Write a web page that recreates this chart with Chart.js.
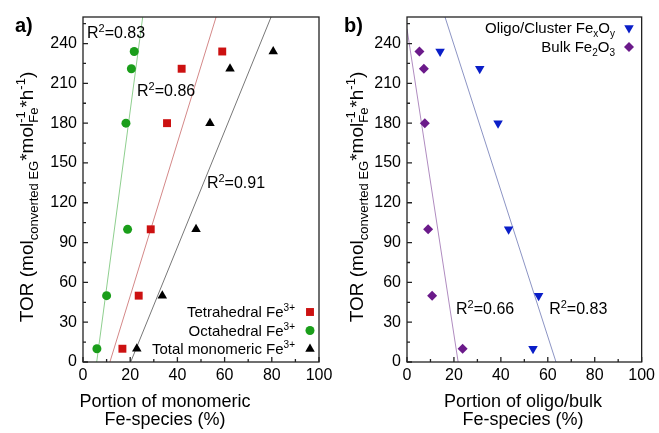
<!DOCTYPE html>
<html>
<head>
<meta charset="utf-8">
<script src="https://cdn.jsdelivr.net/npm/chart.js@4.4.1/dist/chart.umd.min.js"></script>
<style>
  body { margin: 0; background: #fff; }
  #wrap { position: relative; width: 659px; height: 433px; }
  canvas { position: absolute; top: 0; }
  #left { left: 0; }
  #right { left: 330px; }
</style>
</head>
<body>
<div id="wrap">
  <canvas id="left" width="340" height="433"></canvas>
  <canvas id="right" width="329" height="433"></canvas>
</div>
<script>
// TOR of the six catalysts (same order in every series)
const tor = [234, 221, 180, 100, 50, 10];

// panel a) portion of monomeric Fe species (%)
const tetrahedral = [59, 41.8, 35.6, 28.7, 23.6, 16.7];
const octahedral = [21.7, 20.5, 18.2, 18.9, 10, 5.9];
const totalMonomeric = [80.6, 62.3, 53.8, 47.9, 33.6, 22.8];

// panel b) portion of oligo/bulk Fe species (%)
const oligoCluster = [14.1, 31, 38.8, 43.3, 56.1, 53.7];
const bulk = [5.3, 7.2, 7.6, 9.0, 10.7, 23.7];

// linear fits, two end points each [x, y]
const octaFit = [[5.8, 0], [25.3, 260]];
const tetraFit = [[11.4, 0], [56.4, 260]];
const totalFit = [[20.2, 0], [79.7, 260]];
const bulkFit = [[0, 251], [21.8, 0]];
const oligoFit = [[16.2, 260], [63.5, 0]];

// R^2 labels: [text, x, y] in data units
const r2Left = [['0.83', 1.7, 244], ['0.86', 22.9, 200.5], ['0.91', 52.5, 131]];
const r2Right = [['0.66', 20.9, 36], ['0.83', 60.6, 36]];

const xTicks = [0, 20, 40, 60, 80, 100];
const xMinor = [10, 30, 50, 70, 90];
const yTicks = [0, 30, 60, 90, 120, 150, 180, 210, 240];
const yMinor = [15, 45, 75, 105, 135, 165, 195, 225, 255];

const FONT = '"Liberation Sans", Arial, sans-serif';
Chart.defaults.font.family = FONT;
Chart.defaults.color = '#000';

const yTitle = ['TOR (mol', {sub: 'converted EG'}, '*mol', {sup: '-1', sub: 'Fe'}, '*h', {sup: '-1'}, ')'];

function toPoints(xs) {
    return xs.map((x, i) => ({x: x, y: tor[i]}));
}

function drawRich(ctx, parts, x, y, size, align, bold) {
    const small = Math.round(size * 0.68);
    const font = s => (bold ? 'bold ' : '') + s + 'px ' + FONT;
    const width = p => {
        if (typeof p === 'string') {
            ctx.font = font(size);
            return ctx.measureText(p).width;
        }
        ctx.font = font(small);
        return Math.max(p.sup ? ctx.measureText(p.sup).width : 0,
                        p.sub ? ctx.measureText(p.sub).width : 0);
    };
    const total = parts.reduce((s, p) => s + width(p), 0);
    let cx = align === 'right' ? x - total : align === 'center' ? x - total / 2 : x;
    ctx.textAlign = 'left';
    ctx.textBaseline = 'alphabetic';
    parts.forEach(p => {
        const w = width(p);
        if (typeof p === 'string') {
            ctx.font = font(size);
            ctx.fillText(p, cx, y);
        } else {
            ctx.font = font(small);
            if (p.sup) ctx.fillText(p.sup, cx, y - size * 0.4);
            if (p.sub) ctx.fillText(p.sub, cx, y + size * 0.27);
        }
        cx += w;
    });
}

function decorations(cfg) {
    return {
        id: 'decorations',
        afterDraw(chart) {
            const ctx = chart.ctx;
            const a = chart.chartArea;
            const xs = chart.scales.x;
            const ys = chart.scales.y;
            ctx.save();
            ctx.fillStyle = '#000';

            // frame and inward ticks
            ctx.strokeStyle = '#222';
            ctx.lineWidth = 1.3;
            ctx.strokeRect(a.left, a.top, a.right - a.left, a.bottom - a.top);
            ctx.beginPath();
            xTicks.forEach(v => {
                const px = xs.getPixelForValue(v);
                ctx.moveTo(px, a.bottom); ctx.lineTo(px, a.bottom - 5);
            });
            xMinor.forEach(v => {
                const px = xs.getPixelForValue(v);
                ctx.moveTo(px, a.bottom); ctx.lineTo(px, a.bottom - 3);
            });
            yTicks.forEach(v => {
                const py = ys.getPixelForValue(v);
                ctx.moveTo(a.left, py); ctx.lineTo(a.left + 5, py);
            });
            yMinor.forEach(v => {
                const py = ys.getPixelForValue(v);
                ctx.moveTo(a.left, py); ctx.lineTo(a.left + 3, py);
            });
            ctx.stroke();

            // panel letter
            ctx.font = 'bold 20px ' + FONT;
            ctx.textAlign = 'left';
            ctx.textBaseline = 'alphabetic';
            ctx.fillText(cfg.letter, cfg.letterX, 32);

            // y title, rotated
            ctx.save();
            ctx.translate(33, 197);
            ctx.rotate(-Math.PI / 2);
            drawRich(ctx, yTitle, 0, 0, 19, 'center');
            ctx.restore();

            // x title, two lines
            ctx.font = '18px ' + FONT;
            ctx.textAlign = 'center';
            ctx.fillText(cfg.xTitle[0], cfg.xTitleX, 407);
            ctx.fillText(cfg.xTitle[1], cfg.xTitleX, 425);

            // R^2 labels
            cfg.r2.forEach(r => {
                drawRich(ctx, ['R', {sup: '2'}, '=' + r[0]],
                         xs.getPixelForValue(r[1]), ys.getPixelForValue(r[2]), 16, 'left');
            });

            // legend
            cfg.legend.forEach((item, i) => {
                const rowY = cfg.legendY + i * cfg.legendGap;
                drawRich(ctx, item.text, cfg.legendTextX, rowY + 5, 15, 'right');
                ctx.fillStyle = item.color;
                Chart.helpers.drawPoint(ctx, {
                    pointStyle: item.style, radius: item.radius,
                    rotation: item.rotation || 0, borderWidth: 0
                }, cfg.legendMarkX, rowY);
                ctx.fillStyle = '#000';
            });
            ctx.restore();
        }
    };
}

function pointSet(xs, color, style, radius, rotation) {
    return {
        data: toPoints(xs),
        showLine: false,
        pointStyle: style,
        pointRadius: radius,
        pointRotation: rotation || 0,
        pointBackgroundColor: color,
        pointBorderColor: color,
        pointBorderWidth: 0
    };
}

function fitSet(ends, color) {
    return {
        data: ends.map(p => ({x: p[0], y: p[1]})),
        showLine: true,
        borderColor: color,
        borderWidth: 1,
        pointRadius: 0
    };
}

function drawPanel(id, datasets, yWidth, padRight, cfg) {
    new Chart(document.getElementById(id), {
        type: 'scatter',
        data: { datasets: datasets },
        options: {
            responsive: false,
            animation: false,
            events: [],
            layout: { padding: { left: 0, top: 17, right: padRight, bottom: 0 } },
            plugins: {
                legend: { display: false },
                tooltip: { enabled: false }
            },
            scales: {
                x: {
                    type: 'linear', min: 0, max: 100,
                    grid: { display: false, drawTicks: false },
                    border: { display: false },
                    afterBuildTicks: s => { s.ticks = xTicks.map(v => ({value: v})); },
                    afterFit: s => { s.height = 71; },
                    ticks: { padding: 4, font: { size: 16 }, color: '#000' }
                },
                y: {
                    type: 'linear', min: 0, max: 260,
                    grid: { display: false, drawTicks: false },
                    border: { display: false },
                    afterBuildTicks: s => { s.ticks = yTicks.map(v => ({value: v})); },
                    afterFit: s => { s.width = yWidth; },
                    ticks: { padding: 6, font: { size: 16 }, color: '#000' }
                }
            }
        },
        plugins: [decorations(cfg)]
    });
}

const RED = '#cc1111', GREEN = '#1a9e1a', BLACK = '#000000';
const BLUE = '#0a1ec8', PURPLE = '#6b1a8a';

drawPanel('left', [
    pointSet(tetrahedral, RED, 'rect', 5.6),
    pointSet(octahedral, GREEN, 'circle', 4.5),
    pointSet(totalMonomeric, BLACK, 'triangle', 5.5),
    fitSet(octaFit, '#8fcf8f'),
    fitSet(tetraFit, '#d48888'),
    fitSet(totalFit, '#777777')
], 83, 21, {
    letter: 'a)', letterX: 15,
    xTitle: ['Portion of monomeric', 'Fe-species (%)'], xTitleX: 165,
    r2: r2Left,
    legendY: 312, legendGap: 18.5, legendTextX: 295, legendMarkX: 310,
    legend: [
        {text: ['Tetrahedral Fe', {sup: '3+'}], color: RED, style: 'rect', radius: 5.6},
        {text: ['Octahedral Fe', {sup: '3+'}], color: GREEN, style: 'circle', radius: 4.5},
        {text: ['Total monomeric Fe', {sup: '3+'}], color: BLACK, style: 'triangle', radius: 5.5}
    ]
});

drawPanel('right', [
    pointSet(oligoCluster, BLUE, 'triangle', 5.5, 180),
    pointSet(bulk, PURPLE, 'rectRot', 5),
    fitSet(bulkFit, '#b08cc0'),
    fitSet(oligoFit, '#8c94c4')
], 77, 16, {
    letter: 'b)', letterX: 14,
    xTitle: ['Portion of oligo/bulk', 'Fe-species (%)'], xTitleX: 193,
    r2: r2Right,
    legendY: 28, legendGap: 19, legendTextX: 285, legendMarkX: 299,
    legend: [
        {text: ['Oligo/Cluster Fe', {sub: 'x'}, 'O', {sub: 'y'}], color: BLUE, style: 'triangle', radius: 5.5, rotation: 180},
        {text: ['Bulk Fe', {sub: '2'}, 'O', {sub: '3'}], color: PURPLE, style: 'rectRot', radius: 5}
    ]
});
</script>
</body>
</html>
